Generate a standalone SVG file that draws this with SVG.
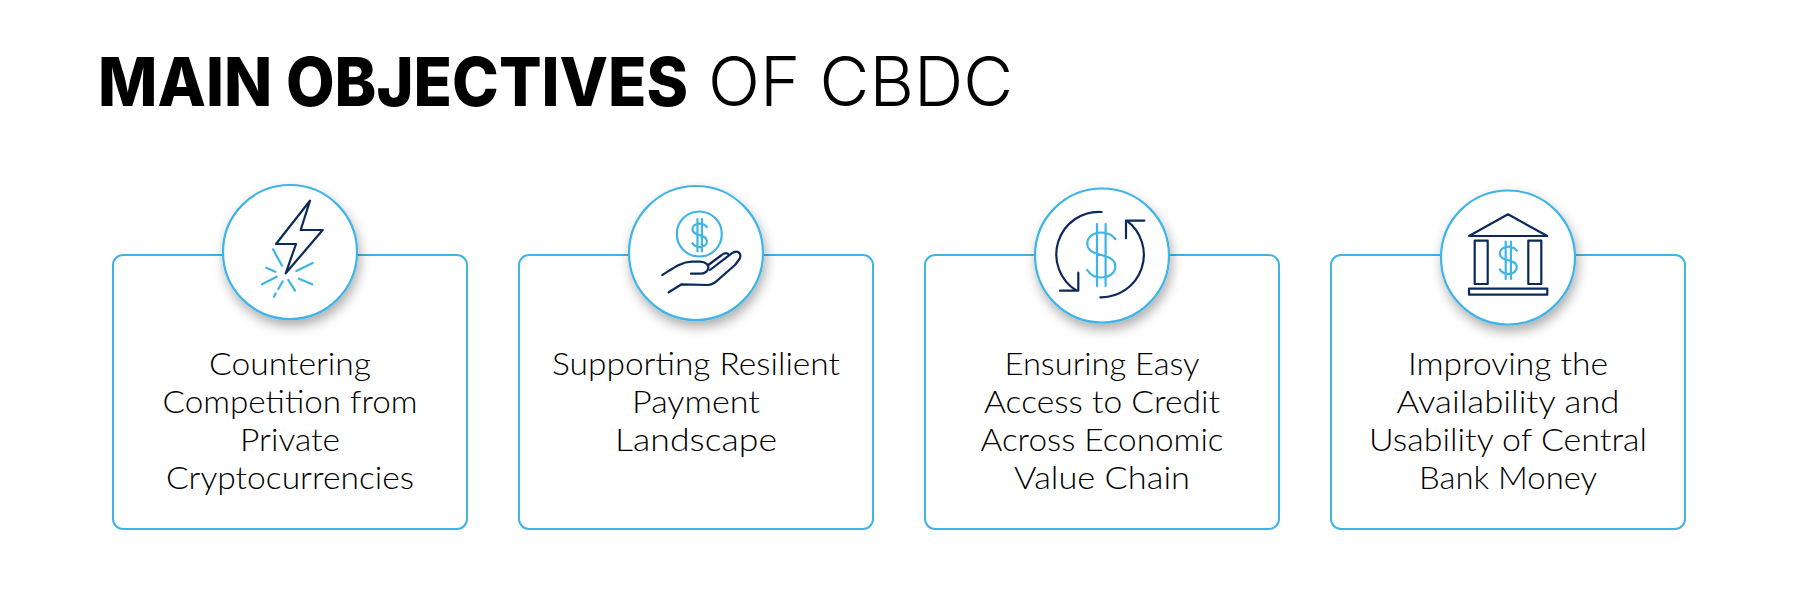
<svg xmlns="http://www.w3.org/2000/svg" width="1800" height="600" viewBox="0 0 1800 600">
<style>
text{fill:#000}
.h{font-family:"Inter","Liberation Sans",sans-serif;font-size:68px}
.t{font-family:"Lato","Liberation Sans",sans-serif;font-size:31px;font-weight:300;text-anchor:middle}
.box{fill:#fff;stroke:#3FB4E7;stroke-width:2}
.c{fill:#fff;stroke:#3FB4E7;stroke-width:2.2;filter:url(#sh)}
.n,.b{fill:none;stroke-linecap:round;stroke-linejoin:round;vector-effect:non-scaling-stroke}
.n{stroke:#0B2A5B;stroke-width:2.2}
.b{stroke:#3FB4E7;stroke-width:2.2}
</style>
<defs>
<filter id="sh" x="-30%" y="-30%" width="160%" height="160%"><feDropShadow dx="2" dy="6" stdDeviation="6" flood-color="#000" flood-opacity=".32"/></filter>
<g id="dollar"><path class="b" d="M14,-16C11,-20 6,-22.5 0,-22.5C-8,-22.5 -14,-18 -14,-11.5C-14,-4 -7,-2 0,0C7,2 14,4 14,11.5C14,18 8,22.5 0,22.5C-6,22.5 -11,20 -14,15M-4.3,-31V31M4.3,-31V31"/></g>
</defs>
<rect width="1800" height="600" fill="#fff"/>
<g id="title">
<text class="h" x="98" y="106" font-weight="800" textLength="590" lengthAdjust="spacingAndGlyphs">MAIN OBJECTIVES</text>
<text class="h" x="708" y="106" font-weight="300" textLength="305" lengthAdjust="spacingAndGlyphs">OF CBDC</text>
</g>
<g id="node1">
<rect class="box" x="113" y="255" width="354" height="274" rx="10"/>
<circle class="c" cx="290" cy="252" r="67"/>
<path class="n" d="M310,200.7L300.7,230H322.7L285.7,273.3L296,244H276Z"/>
<path class="b" d="M273,249.3L282,265.7M266.3,267.7L275.3,271.7M262,284.3L276.7,276.7M274,296.7L275.7,293.3M278.3,289L282.7,281.3M288.3,280L295,290.7M299,278.7L312.3,284.3M296.3,271L312.7,263"/>
<text class="t" x="290" y="375" textLength="162" lengthAdjust="spacingAndGlyphs">Countering</text>
<text class="t" x="290" y="413" textLength="255" lengthAdjust="spacingAndGlyphs">Competition from</text>
<text class="t" x="290" y="451" textLength="100" lengthAdjust="spacingAndGlyphs">Private</text>
<text class="t" x="290" y="489" textLength="248" lengthAdjust="spacingAndGlyphs">Cryptocurrencies</text>
</g>
<g id="node2">
<rect class="box" x="519" y="255" width="354" height="274" rx="10"/>
<circle class="c" cx="696" cy="253" r="67"/>
<circle class="b" cx="699.3" cy="234" r="22.5"/>
<use href="#dollar" transform="translate(699.7 235.3) scale(.52)"/>
<path class="n" d="M662.3,275C672,269 680,262 692,261.7H700C706,262 709,265 708.3,268C707.5,272 705,273.7 700,273.7H691M708.3,265L721.7,255C724,253 727,252.5 728.7,254.5M710,270L731.7,253.3C738,249 742,254 739.5,259L735,265L716,281.7C713,284 711,285 708,285L681.7,284.3L668.7,292.3"/>
<text class="t" x="696" y="375" textLength="288" lengthAdjust="spacingAndGlyphs">Supporting Resilient</text>
<text class="t" x="696" y="413" textLength="128" lengthAdjust="spacingAndGlyphs">Payment</text>
<text class="t" x="696" y="451" textLength="162" lengthAdjust="spacingAndGlyphs">Landscape</text>
</g>
<g id="node3">
<rect class="box" x="925" y="255" width="354" height="274" rx="10"/>
<circle class="c" cx="1102" cy="255.5" r="67"/>
<use href="#dollar" transform="translate(1101.3 255)"/>
<path class="n" d="M1101.7,212A42.5,42.5 0 0 0 1076.7,290.7M1078.3,272.7V290.7H1060M1100.3,297.3A42.5,42.5 0 0 0 1126.7,220.7M1126,238.3V220.7H1144.3"/>
<text class="t" x="1102" y="375" textLength="195" lengthAdjust="spacingAndGlyphs">Ensuring Easy</text>
<text class="t" x="1102" y="413" textLength="236" lengthAdjust="spacingAndGlyphs">Access to Credit</text>
<text class="t" x="1102" y="451" textLength="243" lengthAdjust="spacingAndGlyphs">Across Economic</text>
<text class="t" x="1102" y="489" textLength="176" lengthAdjust="spacingAndGlyphs">Value Chain</text>
</g>
<g id="node4">
<rect class="box" x="1331" y="255" width="354" height="274" rx="10"/>
<circle class="c" cx="1508" cy="257.5" r="67"/>
<path class="n" d="M1469,236L1508,214.3L1547.3,236ZM1474.7,240.7H1487.7V284H1474.7ZM1528.3,240.7H1541.3V284H1528.3ZM1469,288.7H1547.3V294.7H1469Z"/>
<use href="#dollar" transform="translate(1508.3 260.3) scale(.606)"/>
<text class="t" x="1508" y="375" textLength="200" lengthAdjust="spacingAndGlyphs">Improving the</text>
<text class="t" x="1508" y="413" textLength="223" lengthAdjust="spacingAndGlyphs">Availability and</text>
<text class="t" x="1508" y="451" textLength="278" lengthAdjust="spacingAndGlyphs">Usability of Central</text>
<text class="t" x="1508" y="489" textLength="178" lengthAdjust="spacingAndGlyphs">Bank Money</text>
</g>
</svg>
